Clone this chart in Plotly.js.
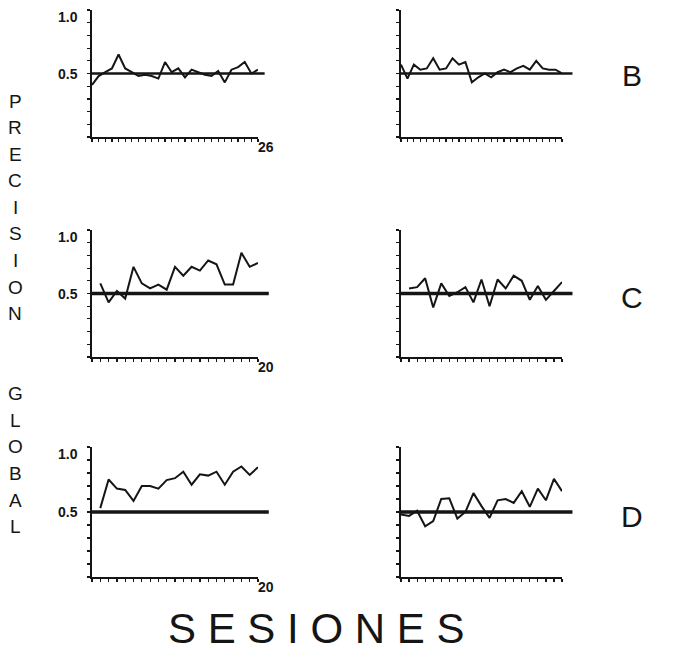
<!DOCTYPE html>
<html>
<head>
<meta charset="utf-8">
<script src="https://cdn.plot.ly/plotly-3.0.1.min.js"></script>
<style>html,body{margin:0;padding:0;background:#fff;}#chart{width:674px;height:670px;}</style>
</head>
<body>
<div id="chart"></div>
<script>
// Sessions (x) for each panel
const sessB = [1,2,3,4,5,6,7,8,9,10,11,12,13,14,15,16,17,18,19,20,21,22,23,24,25,26];
const sess20 = [1,2,3,4,5,6,7,8,9,10,11,12,13,14,15,16,17,18,19,20];
const sessDR = [0,1,2,3,4,5,6,7,8,9,10,11,12,13,14,15,16,17,18,19,20];

// Precision values
const bLeft  = [0.41,0.48,0.51,0.54,0.65,0.54,0.51,0.48,0.49,0.48,0.46,0.59,0.51,0.54,0.47,0.53,0.51,0.49,0.48,0.52,0.43,0.53,0.55,0.59,0.50,0.53];
const bRight = [0.57,0.46,0.57,0.53,0.54,0.62,0.53,0.54,0.62,0.57,0.59,0.43,0.47,0.50,0.47,0.51,0.53,0.51,0.54,0.56,0.53,0.60,0.54,0.53,0.53,0.50];
const cLeft  = [0.58,0.43,0.52,0.46,0.71,0.58,0.54,0.57,0.53,0.71,0.64,0.71,0.68,0.76,0.73,0.57,0.57,0.82,0.71,0.74];
const cRight = [0.54,0.55,0.62,0.39,0.58,0.48,0.51,0.55,0.43,0.61,0.40,0.61,0.54,0.64,0.60,0.45,0.56,0.45,0.52,0.59];
const dLeft  = [0.53,0.75,0.68,0.67,0.585,0.70,0.70,0.68,0.745,0.76,0.81,0.71,0.79,0.78,0.81,0.71,0.81,0.85,0.785,0.845];
const dRight = [0.48,0.47,0.51,0.39,0.43,0.60,0.605,0.45,0.50,0.645,0.545,0.455,0.59,0.60,0.57,0.66,0.54,0.68,0.59,0.755,0.66];

const chance = 0.5;
const yTicks = [0,0.1,0.2,0.3,0.4,0.5,0.6,0.7,0.8,0.9,1.0];
const yLabels = ['1.0','0.5'];
const yLabelVals = [1.0,0.5];
const endLabels = ['26','20','20'];
const rowLetters = ['B','C','D'];
const axisTitle = 'SESIONES';
const sideTitle = ['P','R','E','C','I','S','I','O','N','','','G','L','O','B','A','L'];

const ink = '#151515';
const FONT = 'Liberation Sans, Arial, Helvetica, sans-serif';

const panels = [
  {x: sessB,  y: bLeft,  xr: [1,26]},
  {x: sessB,  y: bRight, xr: [1,26]},
  {x: sess20, y: cLeft,  xr: [0,20]},
  {x: sess20, y: cRight, xr: [0,20]},
  {x: sess20, y: dLeft,  xr: [0,20]},
  {x: sessDR, y: dRight, xr: [0,20]}
];

const W = 674, H = 670;
const colDom = [[92/W, 258/W], [401/W, 562/W]];
const rowDom = [[1-137/H, 1-10/H], [1-357/H, 1-230/H], [1-577/H, 1-447/H]];

const data = [];
const layout = {
  width: W, height: H,
  margin: {l:0, r:0, t:0, b:0},
  paper_bgcolor: '#fff', plot_bgcolor: '#fff',
  showlegend: false,
  font: {family: FONT, color: ink},
  shapes: [], annotations: []
};

panels.forEach((p, i) => {
  const n = i + 1;
  const sfx = n === 1 ? '' : String(n);
  const row = Math.floor(i/2), col = i % 2;
  data.push({
    x: p.x, y: p.y, xaxis: 'x'+sfx, yaxis: 'y'+sfx,
    type: 'scatter', mode: 'lines',
    line: {color: ink, width: 2}, hoverinfo: 'skip'
  });
  layout['xaxis'+sfx] = {
    domain: colDom[col], anchor: 'y'+sfx, range: p.xr,
    showgrid: false, zeroline: false, showline: true, linecolor: ink, linewidth: 2,
    ticks: 'outside', ticklen: 3, tickwidth: 1.2, tickcolor: ink,
    tick0: 0, dtick: 1, showticklabels: false, fixedrange: true
  };
  layout['yaxis'+sfx] = {
    domain: rowDom[row], anchor: 'x'+sfx, range: [0,1],
    showgrid: false, zeroline: false, showline: true, linecolor: ink, linewidth: 2,
    ticks: 'outside', ticklen: 3, tickwidth: 1.2, tickcolor: ink,
    tickmode: 'array', tickvals: yTicks, showticklabels: false, fixedrange: true
  };
  layout.shapes.push({
    type: 'line', xref: 'x'+sfx+' domain', yref: 'y'+sfx+' domain',
    x0: 0, x1: (i === 0 ? 1.04 : 1.065), y0: chance, y1: chance,
    line: {color: ink, width: row === 0 ? 2.5 : 3.5}
  });
  if (col === 0) {
    yLabelVals.forEach((v, k) => {
      layout.annotations.push({
        text: yLabels[k], xref: 'x'+sfx+' domain', yref: 'y'+sfx,
        x: 0, y: v, xanchor: 'right', yanchor: 'middle', xshift: -12, yshift: v === 1 ? -7 : 0,
        showarrow: false, font: {size: 14, family: FONT, color: ink, weight: 'bold'}
      });
    });
    layout.annotations.push({
      text: endLabels[row], xref: 'x'+sfx+' domain', yref: 'y'+sfx+' domain',
      x: 1, y: 0, xanchor: 'left', yanchor: 'top', xshift: -2, yshift: 0,
      showarrow: false, font: {size: 14, family: FONT, color: ink, weight: 'bold'}
    });
  }
});

// Row letters
const letterY = [75, 297, 516];
rowLetters.forEach((t, r) => {
  layout.annotations.push({
    text: t, xref: 'paper', yref: 'paper', x: 632/W, y: 1 - letterY[r]/H,
    xanchor: 'center', yanchor: 'middle', showarrow: false,
    font: {size: 30, family: FONT, color: ink, weight: 300}
  });
});

// Vertical side title
let yy = 101;
sideTitle.forEach((t) => {
  if (t !== '') {
    layout.annotations.push({
      text: t, xref: 'paper', yref: 'paper', x: 15/W, y: 1 - yy/H,
      xanchor: 'center', yanchor: 'middle', showarrow: false,
      font: {size: 19, family: FONT, color: ink}
    });
  }
  yy += 26.6;
});

// Bottom title
layout.annotations.push({
  text: axisTitle.split('').join(' '), xref: 'paper', yref: 'paper', x: 316/W, y: 1 - 628/H,
  xanchor: 'center', yanchor: 'middle', showarrow: false,
  font: {size: 42, family: FONT, color: ink, weight: 300}
});

Plotly.newPlot('chart', data, layout, {displayModeBar: false, staticPlot: true});
</script>
</body>
</html>
